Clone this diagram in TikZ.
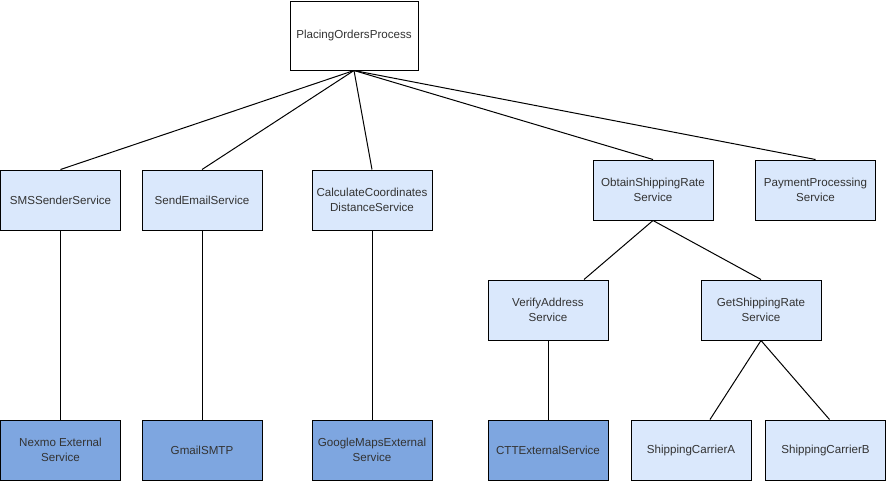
\documentclass[tikz,border=0pt]{standalone}
\usepackage{fontspec}
\setmainfont{Liberation Sans}
\usetikzlibrary{calc}
\definecolor{svcfill}{HTML}{DAE8FC}
\definecolor{extfill}{HTML}{7EA6E0}
\definecolor{txt}{HTML}{333333}
\begin{document}
\begin{tikzpicture}[x=1pt,y=-1pt,
  box/.style={draw=black,line width=1pt,minimum width=120pt,minimum height=60pt,
    inner sep=0pt,align=center,text=txt,font=\fontsize{11.6}{14.5}\selectfont},
  svc/.style={box,fill=svcfill},
  ext/.style={box,fill=extfill},
  link/.style={draw=black,line width=1pt}]
\useasboundingbox (0,0) rectangle (886,482);

% root process
\node[box,fill=white,minimum width=128pt,minimum height=69pt] (root) at (354,35.5) {PlacingOrdersProcess};

% services
\node[svc] (sms) at (60.5,200) {SMSSenderService};
\node[svc] (mail) at (202,200) {SendEmailService};
\node[svc] (calc) at (372,200) {CalculateCoordinates\\DistanceService};
\node[svc] (obtain) at (653,190) {ObtainShippingRate\\Service};
\node[svc] (pay) at (815.5,190) {PaymentProcessing\\Service};
\node[svc] (verify) at (548,310) {VerifyAddress\\Service};
\node[svc] (getrate) at (761,310) {GetShippingRate\\Service};

% external services and carriers
\node[ext] (nexmo) at (60.5,450) {Nexmo External\\Service};
\node[ext] (gmail) at (202,450) {GmailSMTP};
\node[ext] (gmaps) at (372,450) {GoogleMapsExternal\\Service};
\node[ext] (ctt) at (548,450) {CTTExternalService};
\node[svc] (carA) at (691,450) {ShippingCarrierA};
\node[svc] (carB) at (825.5,450) {ShippingCarrierB};

% connectors
\foreach \n in {sms,mail,calc,obtain,pay}
  \draw[link] (root.south) -- (\n.north);
\draw[link] (sms) -- (nexmo);
\draw[link] (mail) -- (gmail);
\draw[link] (calc) -- (gmaps);
\draw[link] (verify) -- (ctt);
\draw[link] (obtain.south) -- ($(verify.north)+(36,0)$);
\draw[link] (obtain.south) -- (getrate.north);
\draw[link] (getrate.south) -- ($(carA.north)+(19,0)$);
\draw[link] (getrate.south) -- ($(carB.north)+(4,0)$);
\end{tikzpicture}
\end{document}
